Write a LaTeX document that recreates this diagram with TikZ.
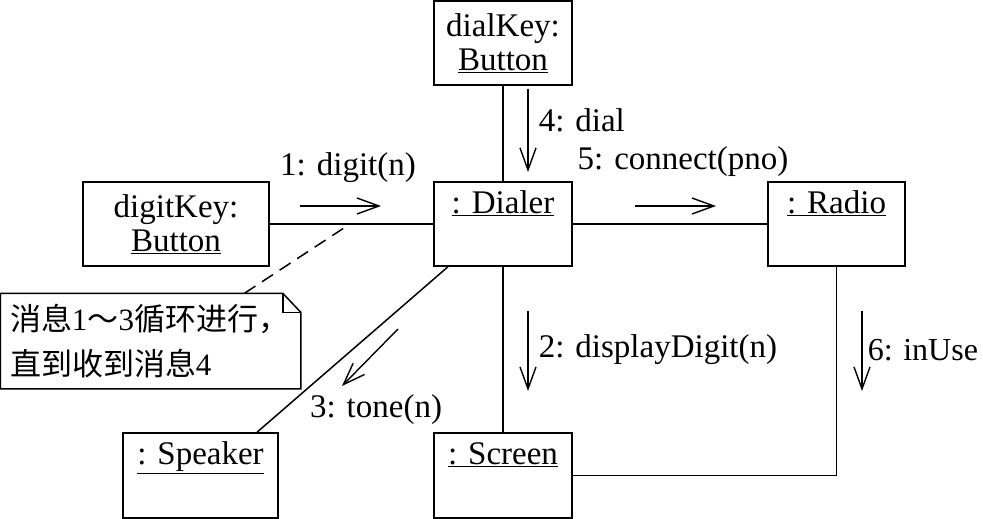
\documentclass[tikz,border=0pt]{standalone}
\usepackage{fontspec}
\setmainfont{Liberation Serif}
\newfontfamily\cjk{Noto Sans CJK SC}
\usetikzlibrary{arrows.meta}

\begin{document}
\begin{tikzpicture}[x=1pt,y=-1pt,line width=1.5pt,
  obj/.style={draw,align=center,inner sep=0pt,minimum height=84pt,font=\fontsize{33}{34}\selectfont},
  msg/.style={-{Straight Barb[length=22pt,width=16pt]},line width=1.4pt},
  msglbl/.style={inner sep=0pt,font=\fontsize{33}{34}\selectfont}]
\useasboundingbox (0,0) rectangle (983,519);
% objects
\node[obj,minimum width=138pt] (dialkey) at (503,43) {dialKey:\\ \underline{Button}};
\node[obj,minimum width=186pt] (digitkey) at (176,224) {digitKey:\\ \underline{Button}};
\node[obj,minimum width=138pt] (dialer) at (503,224) {\underline{: Dialer}\\ \strut};
\node[obj,minimum width=137pt] (radio) at (836.5,224) {\underline{: Radio}\\ \strut};
\node[obj,minimum width=155pt,minimum height=85pt] (speaker) at (200.5,475.5) {\underline{: Speaker}\\ \strut};
\node[obj,minimum width=138pt,minimum height=85pt] (screen) at (503,475.5) {\underline{: Screen}\\ \strut};
% links
\draw (digitkey) -- (dialer); \draw (dialkey) -- (dialer); \draw (dialer) -- (radio); \draw (dialer) -- (screen);
\draw ([xshift=-55pt]dialer.south) -- ([xshift=56.5pt]speaker.north); \draw (screen) -| (radio);
% note
\node[inner xsep=9pt,inner ysep=0pt,text width=281pt,minimum height=94pt,align=left,font=\fontsize{31}{45}\selectfont] (note) at (150.5,341)
  {{\cjk 消息}1{\cjk ～}3{\cjk 循环进行，}\\{\cjk 直到收到消息}4};
\draw (note.north west) -- ([xshift=-18pt]note.north east) -- ([yshift=-19pt]note.north east) -- (note.south east) -- (note.south west) -- cycle;
\draw ([xshift=-18pt]note.north east) |- ([yshift=-19pt]note.north east);
\coordinate (c1) at (350,224);
\draw[dash pattern=on 13pt off 8pt] ([xshift=94pt]note.north) -- (c1);
% messages
\foreach \n/\x/\y/\dx/\dy in {1/300/206/81/0, 5/635/206/81/0, 4/528/89/0/83, 2/528/311/0/80, 6/862/311/0/80, 3/398/329/-56/57}
  { \draw[msg] (\x,\y) coordinate (s\n) -- ++(\dx,\dy) coordinate (e\n); };
\node[msglbl] (l1) at (348,168) {1: digit(n)};
\node[msglbl,anchor=west] (l4) at (538,120) {4: dial};
\node[msglbl] (l5) at (683,162) {5: connect(pno)};
\node[msglbl,anchor=west] (l2) at (538,350) {2: displayDigit(n)};
\node[msglbl,anchor=west,font=\fontsize{32}{34}\selectfont] (l6) at (867,350) {6: inUse};
\node[msglbl] (l3) at (376,410) {3: tone(n)};
\end{tikzpicture}
\end{document}
